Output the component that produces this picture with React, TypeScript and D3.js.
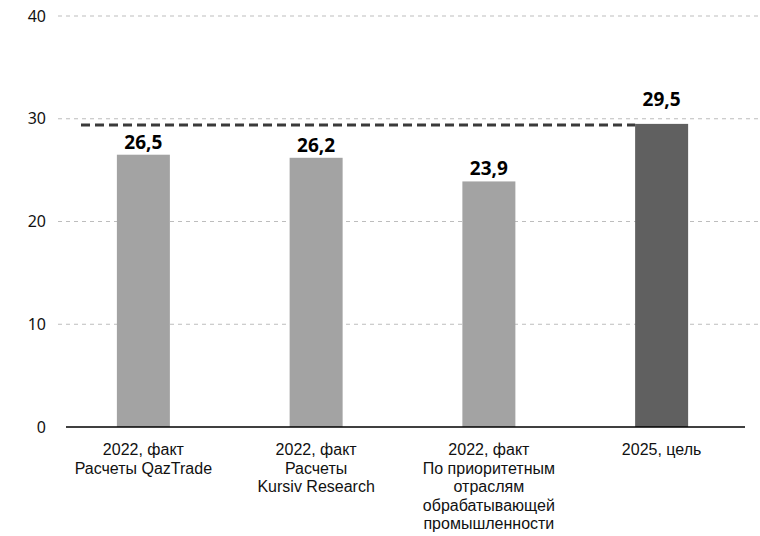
import React from "react";
import * as d3 from "d3";

const categories: string[][] = [
  ["2022, факт", "Расчеты QazTrade"],
  ["2022, факт", "Расчеты", "Kursiv Research"],
  ["2022, факт", "По приоритетным", "отраслям", "обрабатывающей", "промышленности"],
  ["2025, цель"],
];
const values: number[] = [26.5, 26.2, 23.9, 29.5];
const valueLabels: string[] = ["26,5", "26,2", "23,9", "29,5"];
const barColors: string[] = ["#a3a3a3", "#a3a3a3", "#a3a3a3", "#606060"];
const yTicks: number[] = [0, 10, 20, 30, 40];
const targetValue = 29.5;

const W = 760;
const H = 536;
const FONT = "'Noto Sans', 'Open Sans', sans-serif";
const CAT_FONT = "'Liberation Sans', Arial, sans-serif";

export default function App() {
  const y = d3.scaleLinear().domain([0, 40]).range([427, 16]);
  const x = d3
    .scaleBand<number>()
    .domain(d3.range(categories.length))
    .range([57, 748])
    .padding(0);
  const step = x.step();
  const barW = 53;
  const cx = (i: number) => (x(i) as number) + step / 2;

  return (
    <svg
      width={W}
      height={H}
      style={{ position: "absolute", left: 0, top: 0, background: "#fff" }}
      fontFamily={FONT}
    >
      {yTicks.map((t) => (
        <g key={t}>
          {t !== 0 && (
            <line
              x1={58}
              x2={760}
              y1={y(t)}
              y2={y(t)}
              stroke="#bdbdbd"
              strokeWidth={1}
              strokeDasharray="4,4"
            />
          )}
          <text
            x={46}
            y={y(t)}
            dy="0.35em"
            textAnchor="end"
            fontSize={16}
            fill="#111"
          >
            {t}
          </text>
        </g>
      ))}
      {values.map((v, i) => (
        <rect
          key={i}
          x={cx(i) - barW / 2}
          y={y(v)}
          width={barW}
          height={y(0) - y(v)}
          fill={barColors[i]}
        />
      ))}
      <line
        x1={81}
        x2={cx(3) - barW / 2}
        y1={y(targetValue) + 1}
        y2={y(targetValue) + 1}
        stroke="#3a3a3a"
        strokeWidth={3}
        strokeDasharray="9,5"
      />
      <line x1={66} x2={745} y1={y(0)} y2={y(0)} stroke="#000" strokeWidth={1.5} />
      {values.map((v, i) => (
        <text
          key={i}
          x={cx(i)}
          y={y(v) - (i === values.length - 1 ? 18 : 6)}
          textAnchor="middle"
          fontSize={19}
          fontWeight="bold"
          fill="#000"
        >
          {valueLabels[i]}
        </text>
      ))}
      {categories.map((lines, i) => (
        <text
          key={i}
          x={cx(i)}
          y={455}
          textAnchor="middle"
          fontSize={16}
          fontFamily={CAT_FONT}
          fill="#111"
        >
          {lines.map((l, j) => (
            <tspan key={j} x={cx(i)} dy={j === 0 ? 0 : 18.5}>
              {l}
            </tspan>
          ))}
        </text>
      ))}
    </svg>
  );
}
